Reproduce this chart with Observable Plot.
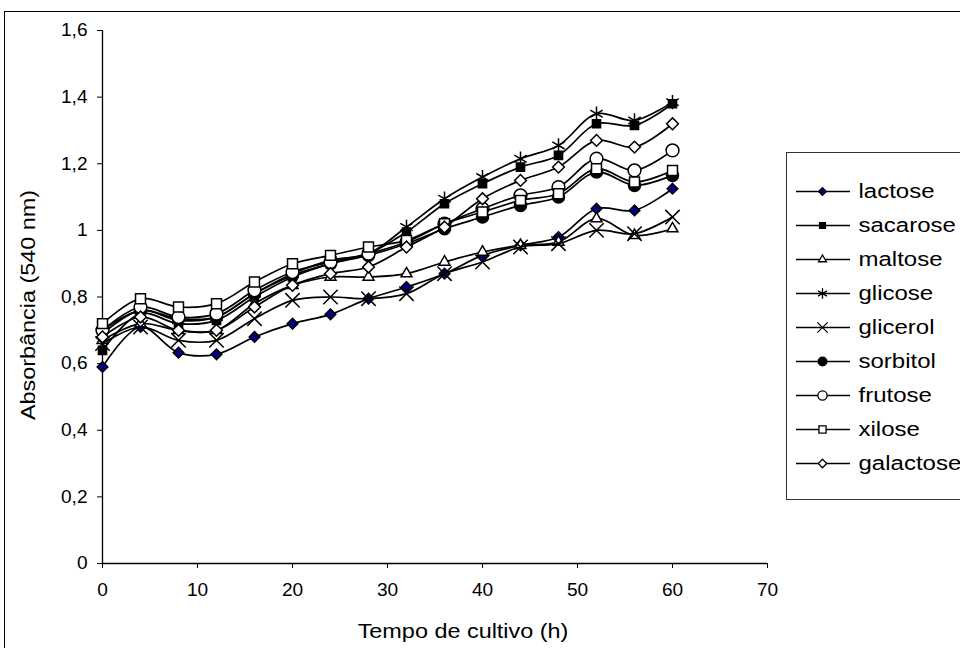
<!DOCTYPE html>
<html>
<head>
<meta charset="utf-8">
<script src="https://cdn.jsdelivr.net/npm/d3@7"></script>
<script src="https://cdn.jsdelivr.net/npm/@observablehq/plot@0.6"></script>
<style>
  html, body { margin: 0; padding: 0; background: #fff; width: 960px; height: 648px; overflow: hidden; position: relative; }
  #frame { position: absolute; left: 4px; top: 11px; width: 2000px; height: 2000px; border-left: 1px solid #000; border-top: 1px solid #000; }
  #chart { position: absolute; left: 0; top: 0; }
  #legend { position: absolute; left: 786px; top: 152px; width: 300px; height: 348px; box-sizing: border-box;
            border: 1px solid #333; background: #fff; overflow: hidden; }
  #legend svg { display: block; }
</style>
</head>
<body>
<div id="frame"></div>
<div id="chart"></div>
<div id="legend"></div>
<script>
// ---------- data ----------
const times = [0, 4, 8, 12, 16, 20, 24, 28, 32, 36, 40, 44, 48, 52, 56, 60];
const seriesNames = ["lactose", "sacarose", "maltose", "glicose", "glicerol", "sorbitol", "frutose", "xilose", "galactose"];

const lactose   = [0.59, 0.71, 0.633, 0.628, 0.68, 0.72, 0.748, 0.795, 0.83, 0.87, 0.925, 0.955, 0.98, 1.065, 1.06, 1.125];
const sacarose  = [0.64, 0.75, 0.72, 0.73, 0.80, 0.86, 0.90, 0.93, 0.995, 1.08, 1.14, 1.19, 1.225, 1.32, 1.315, 1.38];
const maltose   = [0.67, 0.72, 0.70, 0.70, 0.78, 0.835, 0.86, 0.86, 0.87, 0.905, 0.935, 0.955, 0.965, 1.035, 0.985, 1.005];
const glicose   = [0.69, 0.76, 0.73, 0.74, 0.81, 0.87, 0.91, 0.93, 1.01, 1.095, 1.16, 1.215, 1.255, 1.35, 1.33, 1.385];
const glicerol  = [0.66, 0.71, 0.67, 0.67, 0.735, 0.79, 0.80, 0.795, 0.81, 0.87, 0.905, 0.95, 0.96, 1.00, 0.99, 1.04];
const sorbitol  = [0.70, 0.76, 0.735, 0.74, 0.81, 0.865, 0.90, 0.925, 0.96, 1.005, 1.04, 1.075, 1.10, 1.175, 1.135, 1.165];
const frutose   = [0.70, 0.77, 0.74, 0.75, 0.82, 0.875, 0.905, 0.93, 0.965, 1.02, 1.065, 1.105, 1.13, 1.215, 1.18, 1.24];
const xilose    = [0.72, 0.795, 0.77, 0.78, 0.845, 0.90, 0.925, 0.95, 0.97, 1.02, 1.055, 1.09, 1.11, 1.185, 1.145, 1.18];
const galactose = [0.68, 0.74, 0.70, 0.70, 0.77, 0.835, 0.87, 0.89, 0.95, 1.01, 1.095, 1.15, 1.19, 1.27, 1.25, 1.32];

const seriesValues = [lactose, sacarose, maltose, glicose, glicerol, sorbitol, frutose, xilose, galactose];

const xTicks = [0, 10, 20, 30, 40, 50, 60, 70];
const yTicks = [0, 0.2, 0.4, 0.6, 0.8, 1.0, 1.2, 1.4, 1.6];
const yTickLabels = ["0", "0,2", "0,4", "0,6", "0,8", "1", "1,2", "1,4", "1,6"];
const xTitle = "Tempo de cultivo (h)";
const yTitle = "Absorbância (540 nm)";

// ---------- styles (marker per series) ----------
const styles = {
  lactose:   {symbol: "diamond2", fill: "#000080", r: 4.8},
  sacarose:  {symbol: "square",   fill: "#000",    r: 4.6},
  maltose:   {symbol: "triangle2",fill: "#fff",    r: 5.2},
  glicose:   {symbol: "asterisk", fill: "none",    r: 6.8},
  glicerol:  {symbol: "times",    fill: "none",    r: 6.6},
  sorbitol:  {symbol: "circle",   fill: "#000",    r: 6.0},
  frutose:   {symbol: "circle",   fill: "#fff",    r: 6.4},
  xilose:    {symbol: "square",   fill: "#fff",    r: 5.6},
  galactose: {symbol: "diamond2", fill: "#fff",    r: 5.3}
};

const rows = seriesNames.flatMap((s, i) => times.map((t, j) => ({series: s, t, v: seriesValues[i][j]})));

const FONT = "'Liberation Sans', Arial, sans-serif";

// ---------- main chart ----------
const marks = [
  Plot.ruleY([0], {stroke: "#000", strokeWidth: 1.3}),
  Plot.ruleX([0], {stroke: "#000", strokeWidth: 1.3})
];
for (const s of seriesNames) {
  const d = rows.filter(r => r.series === s);
  const st = styles[s];
  marks.push(Plot.line(d, {x: "t", y: "v", curve: "catmull-rom", stroke: "#000", strokeWidth: 1.7}));
  marks.push(Plot.dot(d, {x: "t", y: "v", symbol: st.symbol, r: st.r, fill: st.fill, stroke: "#000", strokeWidth: 1.5}));
}
marks.push(Plot.text([xTitle], {text: d => d, frameAnchor: "bottom", dx: 28, dy: 68, fontSize: 19.5, textAnchor: "middle", lineAnchor: "middle"}));
marks.push(Plot.text([yTitle], {text: d => d, frameAnchor: "left", dx: -74, dy: 8, rotate: -90, fontSize: 19.5, textAnchor: "middle", lineAnchor: "middle"}));

const chart = Plot.plot({
  width: 960,
  height: 648,
  marginLeft: 102,
  marginRight: 193,
  marginTop: 30,
  marginBottom: 85,
  style: {fontFamily: FONT, fontSize: "18px", color: "#000", background: "transparent", overflow: "visible"},
  x: {domain: [0, 70], ticks: xTicks, tickSize: 5, tickPadding: 15, label: null, tickFormat: d => String(d)},
  y: {domain: [0, 1.6], ticks: yTicks, tickSize: 5, tickPadding: 10, label: null,
      tickFormat: d => yTickLabels[Math.round(d * 5)]},
  marks
});
document.getElementById("chart").appendChild(chart);

// ---------- legend ----------
const legendMarks = [
  Plot.ruleY(seriesNames, {y: d => d, x1: 9, x2: 63, stroke: "#000", strokeWidth: 1.6})
];
for (const s of seriesNames) {
  const st = styles[s];
  legendMarks.push(Plot.dot([s], {x: 35, y: d => d, symbol: st.symbol, r: st.r * 0.72, fill: st.fill, stroke: "#000", strokeWidth: 1.3}));
}
legendMarks.push(Plot.text(seriesNames, {x: 71, y: d => d, text: d => d, textAnchor: "start", lineAnchor: "middle", fontSize: 20}));

const legend = Plot.plot({
  width: 298,
  height: 346,
  margin: 0,
  style: {fontFamily: FONT, fontSize: "20px", color: "#000", background: "transparent"},
  x: {domain: [0, 298], range: [0, 298], axis: null},
  y: {type: "point", domain: seriesNames, range: [19, 329], axis: null},
  marks: legendMarks
});
document.getElementById("legend").appendChild(legend);

// ---------- horizontal stretch of the text (the reference text is wide) ----------
function stretch(svg, factorFor) {
  svg.querySelectorAll("text").forEach(t => {
    const f = factorFor(t.textContent);
    if (f === 1) return;
    const w = t.getComputedTextLength();
    if (w > 0) {
      t.setAttribute("textLength", (w * f).toFixed(1));
      t.setAttribute("lengthAdjust", "spacingAndGlyphs");
    }
  });
}
stretch(chart, s => (s === xTitle || s === yTitle) ? 1.2 : 1.06);
stretch(legend, s => 1.2);
</script>
</body>
</html>
